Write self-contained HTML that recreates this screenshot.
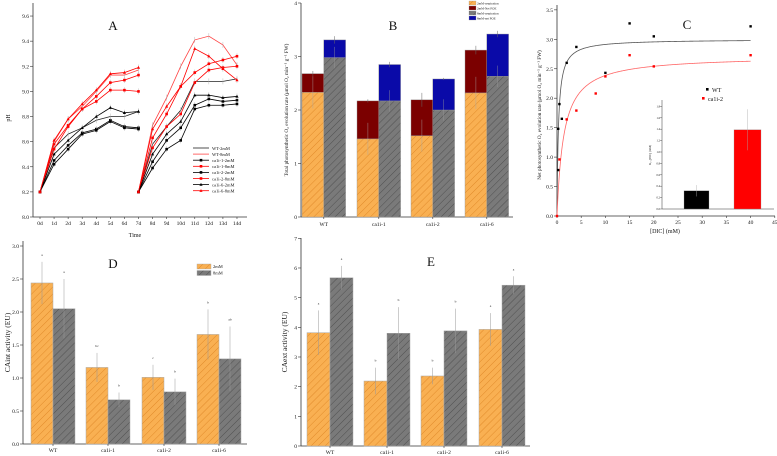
<!DOCTYPE html>
<html><head><meta charset="utf-8"><style>
body{margin:0;background:#fff}
svg{font-family:"Liberation Serif",serif;display:block}
</style></head><body>
<svg id="fig" width="777" height="456" viewBox="0 0 777 456">
<defs>
<pattern id="hO" width="5" height="5" patternUnits="userSpaceOnUse" patternTransform="rotate(45)"><rect width="5" height="5" fill="#f9b052"/><line x1="0" y1="0" x2="0" y2="5" stroke="#e08a2a" stroke-width="1"/></pattern>
<pattern id="hG" width="5" height="5" patternUnits="userSpaceOnUse" patternTransform="rotate(45)"><rect width="5" height="5" fill="#7a7a7a"/><line x1="0" y1="0" x2="0" y2="5" stroke="#505050" stroke-width="1"/></pattern>
</defs>
</svg>
<script>
// ---- Panel A data ----
const aDays=["0d","1d","2d","3d","4d","5d","6d","7d","8d","9d","10d","11d","12d","13d","14d"];
const aTicks=[8.0,8.2,8.4,8.6,8.8,9.0,9.2,9.4,9.6];
const aNames=["WT-2mM","WT-8mM","ca1i-1-2mM","ca1i-1-8mM","ca1i-2-2mM","ca1i-2-8mM","ca1i-6-2mM","ca1i-6-8mM"];
const aColors=["#222","#f44","#000","#f00","#000","#f00","#000","#f00"];
const aMarks=["none","none","sq","sq","sq","sq","tri","tri"];
const aSeg1=[
[8.55,8.66,8.71,8.77,8.80,8.80,8.84],
[8.60,8.78,8.88,9.00,9.13,9.13,9.17],
[8.45,8.57,8.67,8.70,8.77,8.72,8.71],
[8.58,8.73,8.86,8.96,9.07,9.09,9.13],
[8.42,8.54,8.66,8.69,8.76,8.71,8.70],
[8.54,8.72,8.86,8.92,9.01,9.01,9.00],
[8.50,8.61,8.71,8.80,8.87,8.83,8.84],
[8.61,8.78,8.90,9.01,9.14,9.15,9.19]];
const aSeg2=[
[8.58,8.72,8.85,9.08,9.08,9.08,9.10],
[8.73,8.95,9.20,9.41,9.44,9.37,9.21],
[8.44,8.61,8.71,8.89,8.94,8.92,8.93],
[8.63,8.82,9.04,9.15,9.22,9.25,9.28],
[8.39,8.54,8.61,8.86,8.89,8.89,8.90],
[8.55,8.72,8.82,9.07,9.17,9.19,9.20],
[8.50,8.66,8.76,8.97,8.97,8.95,8.96],
[8.70,8.88,9.04,9.34,9.28,9.18,9.09]];
const aStart=8.2;
// ---- Panel B data ----
const bGroups=["WT","ca1i-1","ca1i-2","ca1i-6"];
const bResp2=[2.33,1.46,1.52,2.32];
const bTop2=[2.68,2.17,2.19,3.12];
const bResp8=[2.98,2.17,2.00,2.63];
const bTop8=[3.31,2.85,2.58,3.42];
const bErr2=[0.05,0.03,0.13,0.08];
const bErr8=[0.07,0.05,0.02,0.06];
const bTicks=[0,1,2,3,4];
// ---- Panel C data ----
const cWTx=[0.25,0.25,0.5,1,2,4,10,15,20,40];
const cWTy=[0.78,1.48,1.90,1.65,2.60,2.87,2.43,3.27,3.05,3.22];
const cMx=[0,0.5,2,4,8,10,15,20,40];
const cMy=[0,0.96,1.64,1.79,2.08,2.37,2.73,2.54,2.73];
const cFitVmax=[3.0,2.72];
const cFitK=[0.3,1.4];
const cXTicks=[0,5,10,15,20,25,30,35,40,45];
const cYTicks=[0,0.5,1.0,1.5,2.0,2.5,3.0,3.5];
const cInsetVals=[0.32,1.39];
const cInsetErr=[0.1,0.36];
const cInsetTicks=[0,0.2,0.4,0.6,0.8,1.0,1.2,1.4,1.6,1.8];
// ---- Panel D data ----
const dVal2=[2.44,1.16,1.01,1.66];
const dVal8=[2.05,0.67,0.79,1.29];
const dErr2=[0.32,0.22,0.19,0.38];
const dErr8=[0.45,0.11,0.20,0.49];
const dLet2=["a","bc","c","b"];
const dLet8=["a","b","b","ab"];
const dTicks=[0,0.5,1.0,1.5,2.0,2.5,3.0];
// ---- Panel E data ----
const eVal2=[3.82,2.19,2.36,3.93];
const eVal8=[5.67,3.80,3.88,5.42];
const eErr2=[0.75,0.45,0.28,0.55];
const eErr8=[0.40,0.88,0.75,0.30];
const eLet2=["a","b","b","a"];
const eLet8=["a","b","b","a"];
const eTicks=[0,1,2,3,4,5,6,7];

const svg=document.getElementById('fig');
const NS="http://www.w3.org/2000/svg";
function mk(tag,at,parent){const e=document.createElementNS(NS,tag);for(const k in at)e.setAttribute(k,at[k]);(parent||svg).appendChild(e);return e;}
function txt(x,y,s,size,anchor,parent,rot){const e=mk('text',{x:x,y:y,'font-size':size,'text-anchor':anchor||'middle',fill:'#111'},parent);if(rot)e.setAttribute('transform','rotate(-90 '+x+' '+y+')');e.textContent=s;return e;}
function lin(x1,y1,x2,y2,c,w,parent){return mk('line',{x1:x1,y1:y1,x2:x2,y2:y2,stroke:c||'#333',"stroke-width":w||0.8},parent);}

function axes(g,x0,x1,y0,y1){
  const l=lin(x0,y0,x0,y1,'#333',0.8,g);
  
  const b=lin(x0,y0,x1,y0,'#333',0.8,g);
  
}

// ===== Panel A =====
(function(){
  const g=mk('g',{});
  
  
  const X=i=>40+i*14.07, Y=v=>217-(v-8.0)*125.6;
  axes(g,33,247,217,3);
  aTicks.forEach(t=>{lin(30,Y(t),33,Y(t),'#333',0.6,g);const e=txt(29,Y(t)+2,t.toFixed(1),5.5,'end',g);});
  aDays.forEach((d,i)=>{lin(X(i),217,X(i),219,'#333',0.6,g);const e=txt(X(i),225,d,5.5,'middle',g);});
  let t=txt(135,237,'Time',6,'middle',g);
  t=txt(10,118,'pH',6,'middle',g,true);
  t=txt(113,30,'A',13,'middle',g);
  function marker(x,y,m,c){
    if(m==='sq')return mk('rect',{x:x-1.3,y:y-1.3,width:2.6,height:2.6,fill:c},g);
    if(m==='tri')return mk('path',{d:`M${x} ${y-1.7}L${x+1.6} ${y+1.2}L${x-1.6} ${y+1.2}Z`,fill:c},g);
    return null;
  }
  aNames.forEach((n,si)=>{
    [[aStart].concat(aSeg1[si]),[aStart].concat(aSeg2[si])].forEach((seg,k)=>{
      const off=k*7;
      const pts=seg.map((v,i)=>X(i+off)+','+Y(v)).join(' ');
      const p=mk('polyline',{points:pts,fill:'none',stroke:aColors[si],'stroke-width':0.8},g);
      
      
      seg.forEach((v,i)=>{
        if(i>0){lin(X(i+off),Y(v)-3,X(i+off),Y(v)+3,'#aaa',0.4,g);}
        const m=marker(X(i+off),Y(v),aMarks[si],aColors[si]);
        if(m){}
      });
    });
    const ly=148+si*6.1;
    const ll=lin(193,ly,209,ly,aColors[si],0.8,g);
    
    const lm=marker(201,ly,aMarks[si],aColors[si]);
    if(lm){}
    const lt=txt(212,ly+1.8,n,4.5,'start',g);
    
    
  });
})();

// ===== Panel B =====
(function(){
  const g=mk('g',{});
  
  
  const Y=v=>217-v*53.5;
  const gx=[302,357,411,465], bw=21.8;
  axes(g,301,513,217,3);
  bTicks.forEach(t=>{lin(298,Y(t),301,Y(t),'#333',0.6,g);const e=txt(297,Y(t)+2,String(t),5.5,'end',g);});
  function bar(x,v0,v1,fill,name){const r=mk('rect',{x:x,y:Y(v1),width:bw,height:Y(v0)-Y(v1),fill:fill,stroke:'#999','stroke-width':0.4},g);}
  bGroups.forEach((n,i)=>{
    const x=gx[i];
    bar(x,0,bResp2[i],'url(#hO)','bar-2mm-respiration-'+n);
    bar(x,bResp2[i],bTop2[i],'#7b0000','bar-2mm-net-pos-'+n);
    bar(x+bw,0,bResp8[i],'url(#hG)','bar-8mm-respiration-'+n);
    bar(x+bw,bResp8[i],bTop8[i],'#0a0aa8','bar-8mm-net-pos-'+n);
    lin(x+bw/2,Y(bTop2[i]-bErr2[i]),x+bw/2,Y(bTop2[i]+bErr2[i]),'#666',0.5,g);
    lin(x+bw*1.5,Y(bTop8[i]-bErr8[i]),x+bw*1.5,Y(bTop8[i]+bErr8[i]),'#666',0.5,g);
    lin(x+bw/2,Y(bResp2[i]-0.3),x+bw/2,Y(bResp2[i]+0.3),'#aaa',0.4,g);
    lin(x+bw*1.5,Y(bResp8[i]-0.2),x+bw*1.5,Y(bResp8[i]+0.2),'#999',0.4,g);
    lin(x+bw,217,x+bw,219,'#333',0.6,g);
    const t=txt(x+bw,226,n,5.5,'middle',g);
  });
  let t=txt(393,30,'B',13,'middle',g);
  t=txt(288,110,'Total photosynthetic O₂ evolution rate (μmol O₂ min⁻¹ g⁻¹ FW)',5.2,'middle',g,true);
  const lg=[['url(#hO)','2mM-respiration'],['#7b0000','2mM-Net POE'],['url(#hG)','8mM-respiration'],['#0a0aa8','8mM-net POE']];
  lg.forEach((l,i)=>{const r=mk('rect',{x:469,y:1+i*5,width:7,height:4,fill:l[0],stroke:'#999','stroke-width':0.3},g);
    const e=txt(477,4.3+i*5,l[1],3.2,'start',g);});
})();

// ===== Panel C =====
(function(){
  const g=mk('g',{});
  
  
  const X=v=>557+v*4.84, Y=v=>216-v*58.9;
  axes(g,557,775,216,5);
  cYTicks.forEach(t=>{lin(554,Y(t),557,Y(t),'#333',0.6,g);const e=txt(553,Y(t)+2,t.toFixed(1),5.5,'end',g);});
  cXTicks.forEach(t=>{lin(X(t),216,X(t),218,'#333',0.6,g);const e=txt(X(t),224,String(t),5.5,'middle',g);});
  let t=txt(665,233,'[DIC] (mM)',6,'middle',g);
  t=txt(541,115,'Net photosynthetic O₂ evolution rate (μmol O₂ min⁻¹ g⁻¹ FW)',5.2,'middle',g,true);
  t=txt(687,29,'C',13,'middle',g);
  ['#555','#f66'].forEach((c,k)=>{
    let d='';for(let s=0;s<=400;s++){const x=s*0.1;const y=cFitVmax[k]*x/(cFitK[k]+x);d+=(s?'L':'M')+X(x).toFixed(2)+' '+Y(y).toFixed(2);}
    const p=mk('path',{d:d,fill:'none',stroke:c,'stroke-width':0.8},g);
    
    
  });
  cWTx.forEach((x,i)=>{const r=mk('rect',{x:X(x)-1.2,y:Y(cWTy[i])-1.2,width:2.4,height:2.4,fill:'#000'},g);});
  cMx.forEach((x,i)=>{const r=mk('rect',{x:X(x)-1.2,y:Y(cMy[i])-1.2,width:2.4,height:2.4,fill:'#f00'},g);});
  // legend
  let r=mk('rect',{x:706,y:88,width:2.6,height:2.6,fill:'#000'},g);
  t=txt(712,92,'WT',6,'start',g);
  r=mk('rect',{x:702,y:97,width:2.6,height:2.6,fill:'#f00'},g);
  t=txt(708,101,'ca1i-2',6,'start',g);
  // inset
  const IY=v=>209-v*57;
  const ig=mk('g',{},g);
  
  
  lin(662,209,662,100,'#333',0.5,ig);lin(662,209,774,209,'#333',0.5,ig);
  cInsetTicks.forEach(t=>{lin(660,IY(t),662,IY(t),'#333',0.4,ig);const e=txt(660,IY(t)+1,t.toFixed(1),2.8,'end',ig);});
  const ix=[684,734];const ic=['#000','#f00'];const iw=[25,27];
  cInsetVals.forEach((v,i)=>{const b=mk('rect',{x:ix[i],y:IY(v),width:iw[i],height:IY(0)-IY(v),fill:ic[i],stroke:'#999','stroke-width':0.3},ig);
    lin(ix[i]+iw[i]/2,IY(v-cInsetErr[i]),ix[i]+iw[i]/2,IY(v+cInsetErr[i]),'#aaa',0.4,ig);});
  t=txt(651,155,'K₀.₅[DIC] (mM)',3,'middle',ig,true);
})();

// ===== Panels D & E =====
function caPanel(opts){
  const g=mk('g',{});
  
  
  const Y=v=>opts.y0-v*opts.k;
  axes(g,opts.x0,opts.x1,opts.y0,opts.top);
  opts.ticks.forEach(t=>{lin(opts.x0-3,Y(t),opts.x0,Y(t),'#333',0.6,g);const e=txt(opts.x0-4,Y(t)+2,opts.dec?t.toFixed(1):String(t),5.5,'end',g);});
  const bw=opts.bw;
  bGroups.forEach((n,i)=>{
    const x=opts.gx[i];
    [[opts.v2,opts.e2,opts.l2,'url(#hO)','2mm',x],[opts.v8,opts.e8,opts.l8,'url(#hG)','8mm',x+bw]].forEach(s=>{
      const v=s[0][i];
      const r=mk('rect',{x:s[5],y:Y(v),width:bw,height:Y(0)-Y(v),fill:s[3],stroke:'#aaa','stroke-width':0.5},g);
      
      
      lin(s[5]+bw/2,Y(v-s[1][i]),s[5]+bw/2,Y(v+s[1][i]),'#999',0.5,g);
      const lt=txt(s[5]+bw/2,Y(v+s[1][i])-6,s[2][i],3.5,'middle',g);
      
      
    });
    lin(x+bw,opts.y0,x+bw,opts.y0+2,'#333',0.6,g);
    const t=txt(x+bw,opts.y0+8,n,5.5,'middle',g);
  });
  let t=txt(opts.lx,opts.ly,opts.label,13,'middle',g);
  t=txt(opts.tx,(opts.y0+opts.top)/2,opts.title,7.5,'middle',g,true);
  return g;
}
const gD=caPanel({name:'panel-d',x0:23,x1:247,y0:444,top:241,k:66,dec:true,ticks:dTicks,gx:[31,86,142,197],bw:22,v2:dVal2,v8:dVal8,e2:dErr2,e8:dErr8,l2:dLet2,l8:dLet8,lx:113,ly:268,label:'D',tx:10,title:'CAint activity (EU)'});
const gE=caPanel({name:'panel-e',x0:301,x1:530,y0:446,top:238,k:29.67,dec:false,ticks:eTicks,gx:[307,364,421,479],bw:23,v2:eVal2,v8:eVal8,e2:eErr2,e8:eErr8,l2:eLet2,l8:eLet8,lx:431,ly:266,label:'E',tx:287,title:'CAext activity (EU)'});
// D legend
[['url(#hO)','2mM'],['url(#hG)','8mM']].forEach((l,i)=>{
  const r=mk('rect',{x:197,y:264+i*6.5,width:14,height:5,fill:l[0],stroke:'#aaa','stroke-width':0.4},gD);
  
  
  const t=txt(213,268+i*6.5,l[1],4.5,'start',gD);
  
  
});
</script>
</body></html>
